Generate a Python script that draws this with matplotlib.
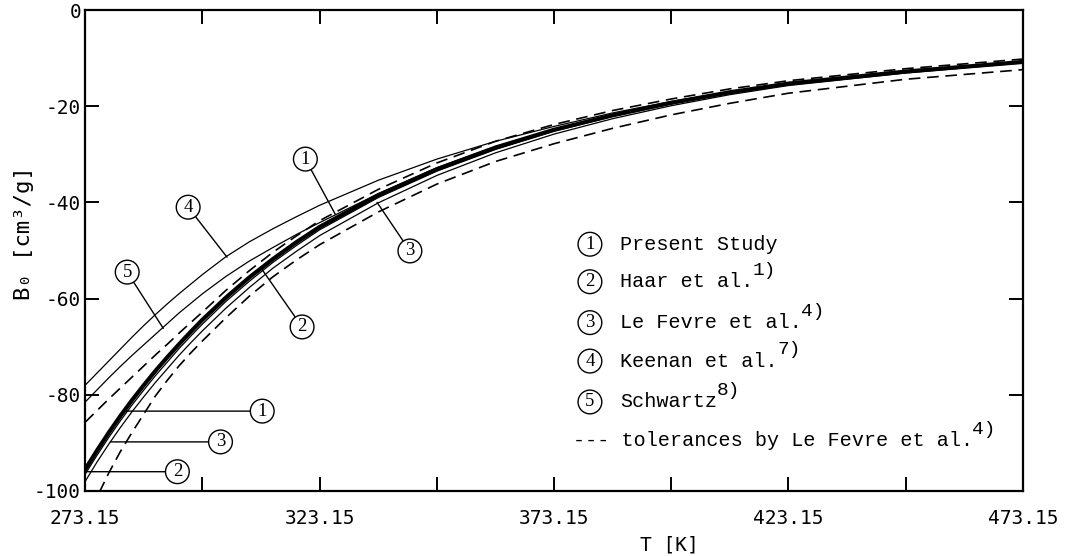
import numpy as np
import matplotlib
matplotlib.use("Agg")
import matplotlib.pyplot as plt

plt.rcParams['axes.unicode_minus'] = False

# temperatures [K]
T = [273.15, 275.65, 278.15, 280.65, 283.15, 285.65, 288.15, 290.65, 293.15, 295.65,
     298.15, 303.15, 308.15, 313.15, 318.15, 323.15, 335.65, 348.15, 360.65, 373.15,
     385.65, 398.15, 410.65, 423.15, 448.15, 473.15]

# B0 [cm3/g]
b_present = [-95.5, -91.6, -87.9, -84.4, -81.1, -78, -75, -72.2, -69.5, -66.9,
             -64.4, -59.8, -55.6, -51.8, -48.3, -45.1, -38.5, -33.1, -28.6, -24.9,
             -21.9, -19.3, -17.1, -15.3, -12.8, -10.8]
b_haar = [-96.5, -92.6, -88.9, -85.4, -82.1, -79, -76, -73.2, -70.4, -67.8,
          -65.3, -60.6, -56.4, -52.5, -49, -45.7, -39, -33.5, -29, -25.2,
          -22.1, -19.5, -17.3, -15.4, -12.9, -10.9]
b_lefevre = [-98, -94, -90.3, -86.8, -83.5, -80.4, -77.4, -74.6, -71.8, -69.2,
             -66.7, -62, -57.7, -53.7, -50.2, -46.9, -40.1, -34.4, -29.7, -25.8,
             -22.6, -19.9, -17.6, -15.7, -13.1, -11]
b_keenan = [-78, -75.5, -73, -70.5, -68, -65.6, -63.3, -61.1, -59, -57,
            -55, -51.3, -48.2, -45.5, -43, -40.6, -35.4, -31, -27.3, -24.2,
            -21.4, -19, -17, -15.2, -12.7, -10.7]
b_schwartz = [-81.5, -79, -76.5, -74.1, -71.8, -69.6, -67.4, -65.2, -63, -61,
              -59, -55.4, -52.2, -49.4, -46.7, -44.2, -38.2, -32.8, -28.4, -24.8,
              -21.8, -19.3, -17.1, -15.3, -12.8, -10.8]
tol_upper = [-85.7, -83.3, -80.9, -78.6, -76.3, -74, -71.7, -69.5, -67.2, -65,
             -62.8, -58.3, -54.2, -50.4, -47, -43.8, -37.3, -31.8, -27.3, -23.8,
             -20.9, -18.5, -16.4, -14.7, -12.2, -10.2]
T_low = [276.15, 278.15, 280.65, 283.15, 285.65, 288.15, 290.65, 293.15, 295.65, 298.15,
         303.15, 308.15, 313.15, 318.15, 323.15, 335.65, 348.15, 360.65, 373.15, 385.65,
         398.15, 410.65, 423.15, 448.15, 473.15]
tol_lower = [-100.3, -96.3, -91.8, -87.8, -84, -80.2, -77, -74, -71.3, -68.8,
             -64, -59.5, -55.5, -52, -48.8, -42, -36.2, -31.5, -27.8, -24.6,
             -21.8, -19.4, -17.3, -14.4, -12.4]

legend_names = ["Present Study", "Haar et al.", "Le Fevre et al.", "Keenan et al.", "Schwartz"]
legend_refs = ["", "1)", "4)", "7)", "8)"]

x_ticks = [273.15 + 25 * i for i in range(9)]
x_labels = ["273.15", "", "323.15", "", "373.15", "", "423.15", "", "473.15"]
y_ticks = [0, -20, -40, -60, -80, -100]
y_labels = ["0", "-20", "-40", "-60", "-80", "-100"]

mono = "DejaVu Sans Mono"
typew = "Liberation Mono"
circ_font = "Liberation Serif"

fig = plt.figure(figsize=(10.79, 5.56), dpi=100)
ax = fig.add_axes([0.079, 0.117, 0.869, 0.865])

ax.plot(T, b_haar, color="black", lw=0.9)
ax.plot(T, b_lefevre, color="black", lw=0.9)
ax.plot(T, b_keenan, color="black", lw=0.9)
ax.plot(T, b_schwartz, color="black", lw=0.9)
ax.plot(T, tol_upper, color="black", lw=1.2, dashes=(7, 4))
ax.plot(T_low, tol_lower, color="black", lw=1.2, dashes=(7, 4))
ax.plot(T, b_present, color="black", lw=3, solid_joinstyle="round")

ax.set_xlim(273.15, 473.15)
ax.set_ylim(-100, 0)
ax.set_xticks(x_ticks)
ax.set_xticklabels(x_labels, fontfamily=mono, fontsize=14)
ax.set_yticks(y_ticks)
ax.set_yticklabels(y_labels, fontfamily=mono, fontsize=14)
ax.tick_params(direction="in", length=10, width=1.4, top=True, right=True)
ax.tick_params(axis="x", pad=13)
ax.tick_params(axis="y", pad=3)
for s in ax.spines.values():
    s.set_linewidth(1.6)

fig.text(0.62, 0.02, "T [K]", fontfamily=mono, fontsize=14, ha="center", va="center")
ax.set_ylabel("B₀ [cm³/g]", fontfamily=mono, fontsize=16)
ax.yaxis.set_label_coords(-0.055, 0.536)


def circled(num, xy, xytext=None):
    box = dict(boxstyle="circle,pad=0.18", fc="white", ec="black", lw=1)
    if xytext is None:
        ax.text(xy[0], xy[1], num, fontfamily=circ_font, fontsize=13.5,
                ha="center", va="center", bbox=box)
    else:
        ax.annotate(num, xy=xy, xytext=xytext, fontfamily=circ_font, fontsize=13.5,
                    ha="center", va="center", bbox=box,
                    arrowprops=dict(arrowstyle="-", lw=1, color="black", shrinkA=0, shrinkB=0))


# leader labels on the curves
circled("1", (326.5, -42.5), (320.1, -31))
circled("3", (335.4, -40.0), (342.4, -50.1))
circled("4", (303.4, -51.4), (295.1, -41))
circled("5", (289.8, -66.2), (282.1, -54.5))
circled("2", (310.9, -54.0), (319.4, -65.9))
circled("1", (281.4, -83.4), (310.9, -83.4))
circled("3", (278.5, -89.8), (302.0, -89.8))
circled("2", (273.6, -96.0), (292.8, -96.0))

# legend block
leg_y = [-48.7, -56.5, -65, -73, -81.5]
for i, name in enumerate(legend_names):
    circled(str(i + 1), (380.8, leg_y[i]))
    ax.text(387.2, leg_y[i], name, fontfamily=typew, fontsize=14.5, va="center", ha="left")
    if legend_refs[i]:
        ax.annotate(legend_refs[i], xy=(387.2, leg_y[i]), xycoords="data",
                    xytext=(len(name) * 8.7, 2), textcoords="offset points",
                    fontfamily=typew, fontsize=14, va="bottom", ha="left")
tol_text = "--- tolerances by Le Fevre et al."
ax.text(377.2, -89.5, tol_text, fontfamily=typew, fontsize=14.5, va="center", ha="left")
ax.annotate("4)", xy=(377.2, -89.5), xycoords="data",
            xytext=(len(tol_text) * 8.7, 2), textcoords="offset points",
            fontfamily=typew, fontsize=14, va="bottom", ha="left")

fig.savefig("out.png", dpi=100)
